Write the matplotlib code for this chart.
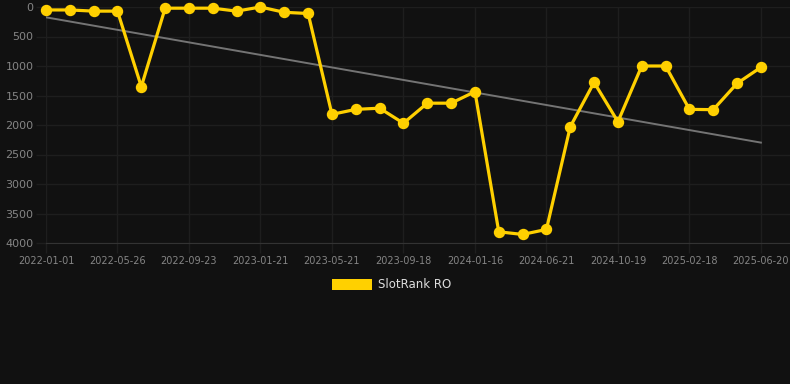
import matplotlib
matplotlib.use("Agg")
import matplotlib.pyplot as plt
import numpy as np

dates = ["2022-01-01", "2022-02-18", "2022-04-07", "2022-05-26", "2022-07-14",
         "2022-08-05", "2022-09-23", "2022-11-10", "2022-12-05", "2023-01-21",
         "2023-03-10", "2023-04-02", "2023-05-21", "2023-07-08", "2023-08-01",
         "2023-09-18", "2023-11-05", "2023-12-01", "2024-01-16", "2024-03-05",
         "2024-05-01", "2024-06-21", "2024-08-08", "2024-09-01", "2024-10-19",
         "2024-12-06", "2025-01-02", "2025-02-18", "2025-04-07", "2025-05-10",
         "2025-06-20"]
rank = [50, 50, 70, 70, 1350, 20, 20, 20, 70, 0, 90, 110,
        1820, 1735, 1715, 1970, 1630, 1630, 1435,
        3810, 3855, 3770, 2030, 1277, 1945, 1000, 1000,
        1735, 1740, 1295, 1022]
yticks = [0, 500, 1000, 1500, 2000, 2500, 3000, 3500, 4000]
series_name = "SlotRank RO"

bg = "#111111"
W, H = 790, 384
fig = plt.figure(figsize=(W / 100, H / 100), dpi=100, facecolor=bg)
left, right, top, bottom = 46, 790, 7, 243
ax = fig.add_axes([left / W, 1 - bottom / H, (right - left) / W, (bottom - top) / H])
ax.set_facecolor(bg)

x = np.arange(len(rank))
# trend line (linear regression)
coef = np.polyfit(x, rank, 1)
ax.plot(x, np.polyval(coef, x), color="#747474", lw=1.4, zorder=2)

ax.plot(x, rank, color="#FFD000", lw=2.3, marker="o", ms=7.2,
        markerfacecolor="#FFD000", markeredgecolor="#FFD000", zorder=3,
        clip_on=False)

ax.set_xlim(0, (right - left) / 23.83)
ax.set_ylim(4000, 0)
ax.set_yticks(yticks)
ax.set_yticklabels([str(v) for v in yticks])
shown = x[::3]
ax.set_xticks(shown)
ax.set_xticklabels([dates[i] for i in shown])

ax.tick_params(axis="y", colors="#1e1e1e", labelcolor="#858585", labelsize=8,
               length=7, width=1, pad=2)
ax.tick_params(axis="x", colors="#1e1e1e", labelcolor="#858585", labelsize=7,
               length=7, width=1, pad=2)
ax.grid(True, color="#1e1e1e", lw=1)
for s in ["top", "right", "left"]:
    ax.spines[s].set_visible(False)
ax.spines["bottom"].set_color("#333333")
ax.set_axisbelow(True)

# legend
fig.patches.append(plt.Rectangle((332 / W, 1 - 290 / H), 40 / W, 11 / H,
                                 transform=fig.transFigure, facecolor="#FFD000",
                                 edgecolor="none"))
fig.text(378 / W, 1 - 285 / H, series_name, color="#dddddd", fontsize=8.5,
         va="center", ha="left")

fig.savefig("out.png", dpi=100, facecolor=bg)
